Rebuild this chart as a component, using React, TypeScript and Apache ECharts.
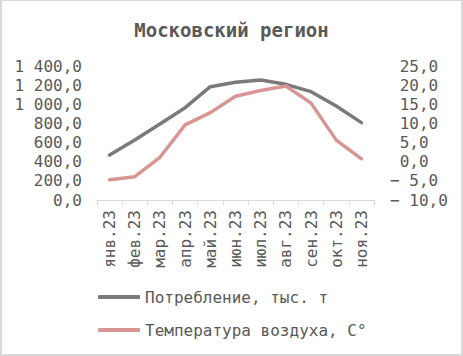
import React, { useEffect, useRef } from "react";
import * as echarts from "echarts";

const categories = ["янв.23", "фев.23", "мар.23", "апр.23", "май.23", "июн.23", "июл.23", "авг.23", "сен.23", "окт.23", "ноя.23"];
const consumption = [472, 629, 797, 968, 1188, 1234, 1258, 1213, 1136, 986, 811];
const temperature = [-4.7, -3.9, 1.2, 9.7, 12.9, 17.2, 18.7, 19.9, 15.4, 5.7, 0.8];
const seriesNames = ["Потребление, тыс. т", "Температура воздуха, С°"];
const titleText = "Московский регион";

const FONT = "'DejaVu Sans Mono', monospace";
const TEXT = "#595959";

function fmtNum(v: number): string {
  const abs = Math.abs(v);
  const fixed = abs.toFixed(1);
  const [ip, dp] = fixed.split(".");
  const withSep = ip.replace(/\B(?=(\d{3})+(?!\d))/g, " ");
  return withSep + "," + dp;
}

export default function App() {
  const ref = useRef<HTMLDivElement>(null);
  useEffect(() => {
    if (!ref.current) return;
    const chart = echarts.init(ref.current, undefined, { renderer: "svg" });
    chart.setOption({
      animation: false,
      backgroundColor: "#ffffff",
      title: {
        text: titleText,
        left: "center",
        top: 20,
        padding: 0,
        textStyle: { fontFamily: FONT, fontSize: 19, fontWeight: "bold", color: TEXT },
      },
      legend: {
        orient: "vertical",
        left: 98,
        top: 289,
        padding: 0,
        itemGap: 17,
        itemWidth: 42,
        itemHeight: 4,
        icon: "roundRect",
        textStyle: { fontFamily: FONT, fontSize: 16, color: TEXT, lineHeight: 16 },
        data: seriesNames,
      },
      grid: { left: 97, right: 89, top: 66.5, bottom: 156, containLabel: false },
      xAxis: {
        type: "category",
        data: categories,
        boundaryGap: true,
        axisLine: { show: true, lineStyle: { color: "#d9d9d9", width: 1 } },
        axisTick: { show: true, length: 5, lineStyle: { color: "#d9d9d9" } },
        axisLabel: { rotate: 90, margin: 10, fontFamily: FONT, fontSize: 16, color: TEXT, interval: 0 },
      },
      yAxis: [
        {
          type: "value",
          min: 0,
          max: 1400,
          interval: 200,
          splitLine: { show: false },
          axisLine: { show: false },
          axisTick: { show: false },
          axisLabel: {
            margin: 15,
            fontFamily: FONT,
            fontSize: 16,
            color: TEXT,
            formatter: (v: number) => fmtNum(v),
          },
        },
        {
          type: "value",
          min: -10,
          max: 25,
          interval: 5,
          position: "right",
          splitLine: { show: false },
          axisLine: { show: false },
          axisTick: { show: false },
          axisLabel: {
            margin: 16,
            align: "left",
            fontFamily: FONT,
            fontSize: 16,
            color: TEXT,
            formatter: (v: number) => (v < 0 ? "− " + fmtNum(v) : " " + fmtNum(v)),
          },
        },
      ],
      series: [
        {
          name: seriesNames[0],
          type: "line",
          data: consumption,
          yAxisIndex: 0,
          symbol: "none",
          itemStyle: { color: "#7a7a7a" },
          lineStyle: { color: "#7a7a7a", width: 3.5, cap: "round", join: "round" },
        },
        {
          name: seriesNames[1],
          type: "line",
          data: temperature,
          yAxisIndex: 1,
          symbol: "none",
          itemStyle: { color: "#d99594" },
          lineStyle: { color: "#d99594", width: 3.5, cap: "round", join: "round" },
        },
      ],
    });
    return () => chart.dispose();
  }, []);
  return (
    <div style={{ position: "fixed", left: 0, top: 0, width: 463, height: 356 }}>
      <div ref={ref} style={{ position: "absolute", left: 0, top: 0, width: 463, height: 356 }} />
      <div
        style={{
          position: "absolute",
          left: 0,
          top: 0,
          width: 463,
          height: 356,
          boxSizing: "border-box",
          borderTop: "1px solid #d9d9d9",
          borderLeft: "2px solid #d9d9d9",
          borderRight: "2px solid #d9d9d9",
          borderBottom: "2px solid #d9d9d9",
          pointerEvents: "none",
        }}
      />
    </div>
  );
}
